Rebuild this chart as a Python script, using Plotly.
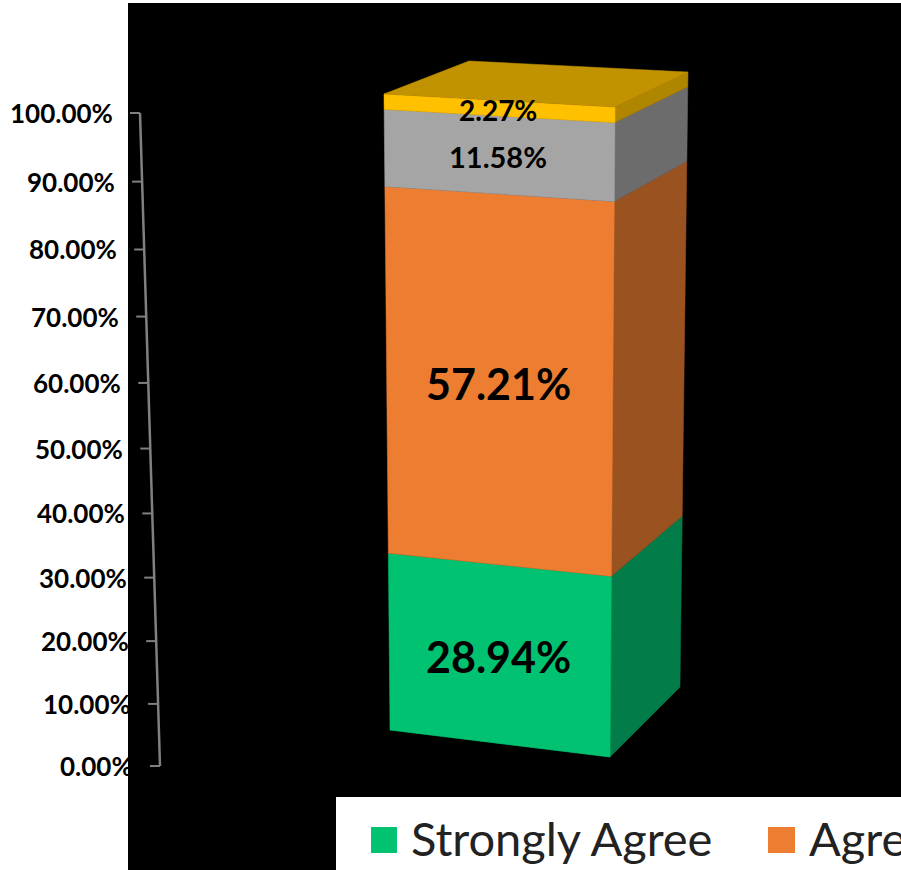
import plotly.graph_objects as go

series_names = ["Strongly Agree", "Agree", "Neutral", "Disagree"]
series_values = [28.94, 57.21, 11.58, 2.27]
value_labels = ["28.94%", "57.21%", "11.58%", "2.27%"]
front_colors = ["#00C271", "#ED7D31", "#A5A5A5", "#FFC000"]
side_colors = ["#027C49", "#9A5220", "#6C6C6C", "#B08500"]
label_sizes = [43, 43, 29, 28]
tick_values = [0, 10, 20, 30, 40, 50, 60, 70, 80, 90, 100]
tick_labels = ["0.00%", "10.00%", "20.00%", "30.00%", "40.00%", "50.00%",
               "60.00%", "70.00%", "80.00%", "90.00%", "100.00%"]
top_color = "#C29300"

W, H = 901, 870
PERSPECTIVE = 1.057
FONT = "Lato, Carlito, sans-serif"


def persp(pct):
    t = pct / 100.0
    return t / (t + (1 - t) * PERSPECTIVE)


def edge(bottom, top, pct):
    s = persp(pct)
    return (bottom[0] + (top[0] - bottom[0]) * s, bottom[1] + (top[1] - bottom[1]) * s)


FL = ((390, 730), (384, 94))
FR = ((610, 757), (615, 107))
BR = ((680, 687), (688, 72))
BL_TOP = (469, 61)
AXIS = ((160, 766), (140, 113))

fig = go.Figure()


def poly(points, color, name):
    xs = [p[0] for p in points] + [points[0][0]]
    ys = [p[1] for p in points] + [points[0][1]]
    fig.add_trace(go.Scatter(x=xs, y=ys, mode="lines", fill="toself", fillcolor=color,
                             line=dict(color=color, width=0.5), name=name,
                             showlegend=False, hoverinfo="name"))


annotations = []
cum = 0.0
for name, val, lab, fc, sc, size in zip(series_names, series_values, value_labels,
                                        front_colors, side_colors, label_sizes):
    lo, hi = cum, min(cum + val, 100.0)
    poly([edge(*FL, lo), edge(*FR, lo), edge(*BR, lo), edge(*BR, hi), edge(*FR, hi)], sc, name)
    poly([edge(*FL, lo), edge(*FR, lo), edge(*FR, hi), edge(*FL, hi)], fc, name)
    mid = (lo + hi) / 2
    a, b = edge(*FL, mid), edge(*FR, mid)
    annotations.append(dict(x=(a[0] + b[0]) / 2 - 1.5, y=(a[1] + b[1]) / 2 + 1.5, text="<b>%s</b>" % lab,
                            showarrow=False, xanchor="center", yanchor="middle",
                            font=dict(family=FONT, size=size, color="#000000")))
    cum = hi

# top face
poly([FL[1], FR[1], BR[1], BL_TOP], top_color, "Top")

# value axis
ax_pts = [edge(*AXIS, v) for v in tick_values]
fig.add_trace(go.Scatter(x=[p[0] for p in ax_pts], y=[p[1] for p in ax_pts], mode="lines",
                         line=dict(color="#808080", width=2.5), showlegend=False, hoverinfo="skip"))
for p, lab in zip(ax_pts, tick_labels):
    fig.add_trace(go.Scatter(x=[p[0] - 10, p[0]], y=[p[1], p[1]], mode="lines",
                             line=dict(color="#808080", width=2), showlegend=False, hoverinfo="skip"))
    annotations.append(dict(x=p[0] - 25, y=p[1], text="<b>%s</b>" % lab, showarrow=False,
                            xanchor="right", yanchor="middle",
                            font=dict(family=FONT, size=26, color="#000000")))

# legend
legend_items = [(371, 397, 409, 0), (768, 795, 807, 1)]
shapes = [
    dict(type="rect", xref="x", yref="y", x0=128, x1=W, y0=3, y1=H, fillcolor="#000000",
         line=dict(width=0), layer="below"),
    dict(type="rect", xref="x", yref="y", x0=336, x1=W, y0=797, y1=H, fillcolor="#FFFFFF",
         line=dict(width=0), layer="below"),
]
for x0, x1, tx, i in legend_items:
    shapes.append(dict(type="rect", xref="x", yref="y", x0=x0, x1=x1, y0=827, y1=853,
                       fillcolor=front_colors[i], line=dict(width=0), layer="below"))
    annotations.append(dict(x=tx, y=838, text=series_names[i], showarrow=False, xanchor="left",
                            yanchor="middle",
                            font=dict(family=FONT, size=47, color="#222222")))

fig.update_layout(
    width=W, height=H, margin=dict(l=0, r=0, t=0, b=0), showlegend=False,
    paper_bgcolor="#FFFFFF", plot_bgcolor="#FFFFFF",
    xaxis=dict(range=[0, W], visible=False, fixedrange=True),
    yaxis=dict(range=[H, 0], visible=False, fixedrange=True),
    shapes=shapes, annotations=annotations,
)
fig.write_html("out.html", config={"displayModeBar": False}, default_width=W, default_height=H,
               post_script="document.documentElement.style.overflow='hidden';document.body.style.margin='0';document.body.style.overflow='hidden';")
